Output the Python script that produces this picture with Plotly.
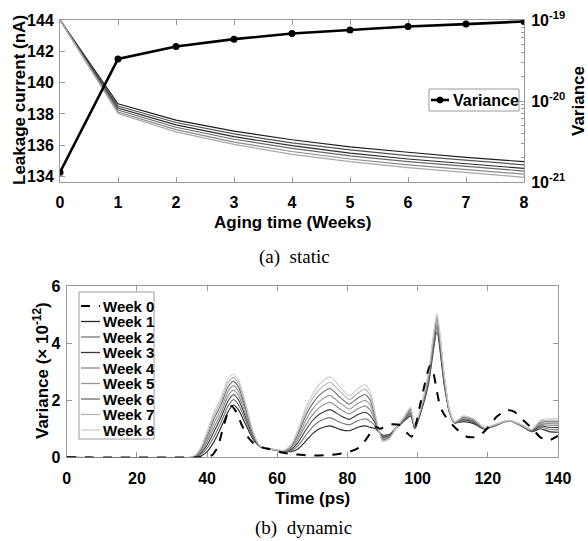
import plotly.graph_objects as go

# ---------------- data: (a) static ----------------
weeks = [0, 1, 2, 3, 4, 5, 6, 7, 8]
variance = [1.32e-21, 3.3e-20, 4.7e-20, 5.8e-20, 6.8e-20, 7.5e-20, 8.3e-20, 8.9e-20, 9.6e-20]
leak_a = [144, 138.65, 137.60, 136.90, 136.35, 135.90, 135.55, 135.22, 134.95]
leak_b = [144, 138.50, 137.45, 136.72, 136.15, 135.70, 135.33, 135.02, 134.75]
leak_c = [144, 138.38, 137.30, 136.55, 135.97, 135.50, 135.12, 134.80, 134.52]
leak_d = [144, 138.25, 137.15, 136.38, 135.80, 135.32, 134.95, 134.63, 134.35]
leak_e = [144, 138.12, 137.00, 136.20, 135.60, 135.12, 134.75, 134.43, 134.15]
leak_f = [144, 138.02, 136.85, 136.05, 135.42, 134.95, 134.57, 134.25, 133.95]
leak_series = [leak_a, leak_b, leak_c, leak_d, leak_e, leak_f]
leak_colors = ["#1e1e1e", "#555555", "#2e2e2e", "#6a6a6a", "#8a8a8a", "#a8a8a8"]

# ---------------- data: (b) dynamic ----------------
t0 = [0, 38, 40, 41.5, 43, 44.5, 46, 47, 48.5, 50, 52, 54, 56, 58, 61, 65, 70, 75, 80, 83.5,
      86, 87.8, 89.3, 92, 95, 97, 98.3, 99.2, 101, 103.5, 104.5, 105.5, 106.5, 108, 111, 114,
      117, 119.5, 122.5, 125.5, 127.5, 130, 133, 135, 137.5, 140]
week0 = [0, 0, 0.02, 0.08, 0.35, 1.0, 1.6, 1.8, 1.55, 1.1, 0.65, 0.42, 0.33, 0.28, 0.18, 0.1,
         0.06, 0.08, 0.17, 0.35, 0.75, 1.07, 1.0, 1.15, 1.12, 0.85, 0.72, 1.0, 2.0, 3.2, 2.95,
         2.3, 1.75, 1.42, 1.0, 0.72, 0.72, 0.96, 1.42, 1.66, 1.6, 1.31, 0.96, 0.7, 0.6, 0.75]

t = [0, 36, 38, 40, 42, 44, 46, 47.5, 49, 51, 53, 55, 58, 62, 64, 66, 68, 70, 72, 75, 78, 80.5,
     83, 85, 86.5, 88, 90, 92, 94, 96, 98, 99.2, 101, 103, 105.5, 107.5, 109, 110.5, 113, 116,
     119, 122, 126, 129.5, 132.5, 135, 137.5, 140]
week1 = [0, 0, 0.03, 0.2, 0.55, 1.05, 1.6, 1.83, 1.65, 1.15, 0.65, 0.38, 0.28, 0.2, 0.2, 0.3,
         0.55, 0.82, 1.0, 1.1, 0.97, 0.93, 1.05, 1.1, 1.05, 1.0, 0.78, 0.8, 1.05, 1.25, 1.45, 1.0,
         1.6, 2.5, 4.4, 2.6, 1.6, 1.2, 1.25, 1.18, 0.98, 1.1, 1.28, 1.1, 0.9, 1.0, 0.9, 0.88]
week2 = [0, 0, 0.08, 0.32, 0.73, 1.23, 1.80, 2.02, 1.83, 1.28, 0.70, 0.39, 0.28, 0.21, 0.24, 0.42,
         0.75, 1.05, 1.26, 1.39, 1.22, 1.14, 1.28, 1.35, 1.26, 1.08, 0.74, 0.77, 1.05, 1.28, 1.50,
         1.02, 1.63, 2.57, 4.51, 2.67, 1.62, 1.21, 1.28, 1.21, 0.99, 1.11, 1.28, 1.11, 0.91, 1.05,
         0.98, 0.96]
week3 = [0, 0, 0.12, 0.43, 0.90, 1.40, 1.98, 2.19, 2.00, 1.40, 0.75, 0.39, 0.29, 0.22, 0.28, 0.53,
         0.93, 1.28, 1.51, 1.67, 1.46, 1.33, 1.50, 1.58, 1.46, 1.17, 0.70, 0.75, 1.05, 1.30, 1.55,
         1.03, 1.66, 2.63, 4.61, 2.73, 1.63, 1.22, 1.32, 1.24, 1.00, 1.12, 1.29, 1.12, 0.93, 1.10,
         1.05, 1.04]
week4 = [0, 0.01, 0.16, 0.54, 1.05, 1.55, 2.15, 2.35, 2.15, 1.51, 0.79, 0.40, 0.29, 0.22, 0.32,
         0.64, 1.10, 1.48, 1.74, 1.93, 1.68, 1.52, 1.70, 1.80, 1.65, 1.24, 0.67, 0.73, 1.05, 1.32,
         1.59, 1.05, 1.69, 2.69, 4.71, 2.79, 1.65, 1.22, 1.35, 1.26, 1.01, 1.12, 1.29, 1.12, 0.94,
         1.14, 1.12, 1.11]
week5 = [0, 0.01, 0.20, 0.63, 1.20, 1.70, 2.31, 2.51, 2.30, 1.62, 0.84, 0.40, 0.29, 0.23, 0.36,
         0.73, 1.26, 1.68, 1.96, 2.17, 1.89, 1.69, 1.89, 2.00, 1.83, 1.31, 0.64, 0.71, 1.05, 1.34,
         1.64, 1.06, 1.72, 2.75, 4.80, 2.84, 1.66, 1.23, 1.37, 1.29, 1.02, 1.13, 1.29, 1.13, 0.95,
         1.19, 1.18, 1.17]
week6 = [0, 0.02, 0.23, 0.73, 1.35, 1.85, 2.47, 2.66, 2.45, 1.72, 0.88, 0.41, 0.30, 0.24, 0.39,
         0.83, 1.42, 1.87, 2.18, 2.41, 2.09, 1.86, 2.08, 2.20, 2.00, 1.38, 0.61, 0.69, 1.05, 1.36,
         1.68, 1.08, 1.75, 2.80, 4.89, 2.90, 1.68, 1.24, 1.40, 1.31, 1.03, 1.14, 1.30, 1.14, 0.96,
         1.23, 1.24, 1.24]
week7 = [0, 0.02, 0.27, 0.82, 1.48, 1.98, 2.62, 2.80, 2.58, 1.82, 0.92, 0.41, 0.30, 0.24, 0.42,
         0.92, 1.57, 2.05, 2.38, 2.63, 2.29, 2.02, 2.25, 2.39, 2.16, 1.45, 0.58, 0.67, 1.05, 1.38,
         1.72, 1.09, 1.78, 2.85, 4.98, 2.95, 1.69, 1.24, 1.43, 1.33, 1.04, 1.14, 1.30, 1.14, 0.97,
         1.27, 1.30, 1.30]
week8 = [0, 0.02, 0.3, 0.9, 1.6, 2.1, 2.75, 2.92, 2.7, 1.9, 0.95, 0.42, 0.3, 0.25, 0.45, 1.0,
         1.7, 2.2, 2.55, 2.82, 2.45, 2.15, 2.4, 2.55, 2.3, 1.5, 0.55, 0.65, 1.05, 1.4, 1.75, 1.1,
         1.8, 2.9, 5.05, 3.0, 1.7, 1.25, 1.45, 1.35, 1.05, 1.15, 1.3, 1.15, 0.98, 1.3, 1.35, 1.35]
week_series = [week1, week2, week3, week4, week5, week6, week7, week8]
week_names = ["Week 1", "Week 2", "Week 3", "Week 4", "Week 5", "Week 6", "Week 7", "Week 8"]
week_colors = ["#2a2a2a", "#767676", "#3a3a3a", "#878787", "#969696", "#6c6c6c", "#b2b2b2", "#cccccc"]

var_ticks = [1e-21, 1e-20, 1e-19]
var_ticktext = ["10<sup>-21</sup>", "10<sup>-20</sup>", "10<sup>-19</sup>"]
var_minor = [2e-21, 3e-21, 4e-21, 5e-21, 6e-21, 7e-21, 8e-21, 9e-21,
             2e-20, 3e-20, 4e-20, 5e-20, 6e-20, 7e-20, 8e-20, 9e-20]

# ---------------- layout helpers ----------------
W, H = 588, 541
def px(x):
    return x / W
def py(y):
    return 1 - y / H

SANS = "Liberation Sans, Arial, sans-serif"
SERIF = "Liberation Serif, Times New Roman, serif"
AXC = "#9a9a9a"
tickfont = dict(family=SANS, size=16, color="black", weight="bold")

fig = go.Figure()

for L, c in zip(leak_series, leak_colors):
    fig.add_trace(go.Scatter(x=weeks, y=L, xaxis="x", yaxis="y", mode="lines",
                             line=dict(color=c, width=1.2), showlegend=False, hoverinfo="skip"))
fig.add_trace(go.Scatter(x=weeks, y=variance, xaxis="x", yaxis="y2", mode="lines+markers",
                         line=dict(color="black", width=2.6), marker=dict(size=7, color="black"),
                         showlegend=False))

for s, c in zip(week_series, week_colors):
    fig.add_trace(go.Scatter(x=t, y=s, xaxis="x3", yaxis="y3", mode="lines",
                             line=dict(color=c, width=1.1, shape="spline", smoothing=0.6),
                             showlegend=False))
fig.add_trace(go.Scatter(x=t0, y=week0, xaxis="x3", yaxis="y3", mode="lines",
                         line=dict(color="black", width=2, dash="dash", shape="spline", smoothing=0.6),
                         showlegend=False))

common = dict(showgrid=False, zeroline=False, showline=True, linecolor=AXC, linewidth=1,
              ticks="inside", ticklen=5, tickcolor=AXC, tickfont=tickfont, automargin=False,
              layer="below traces")

fig.update_layout(
    width=W, height=H, margin=dict(l=0, r=0, t=0, b=0, pad=0, autoexpand=False),
    paper_bgcolor="white", plot_bgcolor="white", showlegend=False,
    xaxis=dict(domain=[px(60), px(524)], range=[0, 8], anchor="y", tickmode="linear",
               tick0=0, dtick=1, mirror="ticks", ticklabelstandoff=6, **common),
    yaxis=dict(domain=[py(182), py(20)], range=[133.65, 144], anchor="x", tickmode="linear",
               tick0=134, dtick=2, mirror=False, ticklabelstandoff=2, **common),
    yaxis2=dict(overlaying="y", side="right", anchor="x", type="log", range=[-21, -19],
                tickmode="array", tickvals=var_ticks, ticktext=var_ticktext,
                minor=dict(tickmode="array", tickvals=var_minor, ticks="inside", ticklen=3,
                           tickcolor=AXC, showgrid=False),
                ticklabelstandoff=3, **common),
    xaxis3=dict(domain=[px(66.7), px(558)], range=[0, 140], anchor="y3", tickmode="linear",
                tick0=0, dtick=20, mirror="ticks", ticklabelstandoff=6, **common),
    yaxis3=dict(domain=[py(457.3), py(286)], range=[0, 6], anchor="x3", tickmode="linear",
                tick0=0, dtick=2, mirror="ticks", ticklabelstandoff=2, **common),
)

ann = []
def label(text, x, y, size=17, angle=0, family=SANS, xanchor="center"):
    ann.append(dict(text=text, x=px(x), y=py(y), xref="paper", yref="paper", showarrow=False,
                    textangle=angle, xanchor=xanchor, yanchor="middle",
                    font=dict(family=family, size=size, color="black")))

label("<b>Leakage current (nA)</b>", 19, 100, angle=-90)
label("<b>Variance</b>", 578, 101, angle=-90)
label("<b>Aging time (Weeks)</b>", 292, 222)
label("(a)  static", 295, 257, size=19, family=SERIF)
label("<b>Variance (× 10<sup>-12</sup>)</b>", 41, 371, angle=-90)
label("<b>Time (ps)</b>", 312, 498)
label("(b)  dynamic", 303, 528, size=19, family=SERIF)

shapes = []
# legend for (a)
shapes.append(dict(type="rect", xref="paper", yref="paper", x0=px(429), x1=px(519),
                   y0=py(111), y1=py(89), line=dict(color=AXC, width=1), fillcolor="white"))
shapes.append(dict(type="line", xref="paper", yref="paper", x0=px(431), x1=px(449),
                   y0=py(100), y1=py(100), line=dict(color="black", width=2.6)))
shapes.append(dict(type="circle", xref="paper", yref="paper", x0=px(437), x1=px(443),
                   y0=py(103), y1=py(97), line=dict(color="black", width=1), fillcolor="black"))
label("<b>Variance</b>", 451, 100, size=16, xanchor="left")

# legend for (b)
shapes.append(dict(type="rect", xref="paper", yref="paper", x0=px(79), x1=px(154),
                   y0=py(439), y1=py(292), line=dict(color=AXC, width=1), fillcolor="white"))
leg_names = ["Week 0"] + week_names
leg_colors = ["black"] + week_colors
for i, (nm, c) in enumerate(zip(leg_names, leg_colors)):
    yy = 306 + i * 15.5
    shapes.append(dict(type="line", xref="paper", yref="paper", x0=px(81), x1=px(100),
                       y0=py(yy), y1=py(yy),
                       line=dict(color=c, width=2 if i == 0 else 1.3,
                                 dash="dash" if i == 0 else "solid")))
    label("<b>" + nm + "</b>", 101, yy, size=15, xanchor="left")

fig.update_layout(annotations=ann, shapes=shapes)
fig.write_html("out.html", config={"displayModeBar": False},
               post_script="document.body.style.margin='0';document.body.style.overflow='hidden';")
